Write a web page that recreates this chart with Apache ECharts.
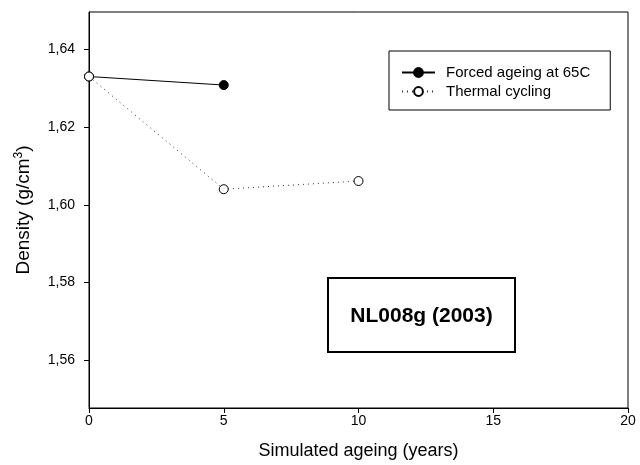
<!DOCTYPE html>
<html>
<head>
<meta charset="utf-8">
<script src="https://cdn.jsdelivr.net/npm/echarts@6/dist/echarts.min.js"></script>
<style>html,body{margin:0;padding:0;background:#fff}#c{width:640px;height:465px}</style>
</head>
<body>
<div id="c"></div>
<script>
// Data
var forcedX = [0, 5];
var forcedY = [1.6330, 1.6308];
var thermalX = [0, 5, 10];
var thermalY = [1.6330, 1.6040, 1.6061];
var yTicks = [1.56, 1.58, 1.60, 1.62, 1.64];
var xTicks = [0, 5, 10, 15, 20];
var seriesNames = ['Forced ageing at 65C', 'Thermal cycling'];
var annotation = 'NL008g (2003)';

function pairs(xs, ys) { return xs.map(function (x, i) { return [x, ys[i]]; }); }

var font = '"Liberation Sans", Arial, sans-serif';
var chart = echarts.init(document.getElementById('c'), null, { renderer: 'canvas' });
chart.setOption({
  animation: false,
  backgroundColor: '#fff',
  textStyle: { fontFamily: font, color: '#000' },
  grid: { left: 89, right: 12, top: 12, bottom: 57, show: true, borderColor: '#000', borderWidth: 1, containLabel: false },
  xAxis: {
    type: 'value', min: 0, max: 20, interval: 5,
    name: 'Simulated ageing (years)', nameLocation: 'middle', nameGap: 34,
    nameTextStyle: { fontSize: 18, fontFamily: font, color: '#000' },
    axisLine: { lineStyle: { color: '#000', width: 1 } },
    axisTick: { show: true, inside: false, length: 5, lineStyle: { color: '#000' }, customValues: xTicks },
    axisLabel: { fontSize: 14, color: '#000', fontFamily: font, margin: 6, customValues: xTicks },
    splitLine: { show: false }
  },
  yAxis: {
    type: 'value', min: 1.5477, max: 1.6496,
    name: 'Density (g/cm{sup|3})', nameLocation: 'middle', nameGap: 55,
    nameTextStyle: { fontSize: 19, fontFamily: font, color: '#000',
      rich: { sup: { fontSize: 12, fontFamily: font, color: '#000', verticalAlign: 'bottom', padding: [0, 0, 9, 0] } } },
    axisLine: { lineStyle: { color: '#000', width: 1 } },
    axisTick: { show: true, inside: false, length: 5, lineStyle: { color: '#000' }, customValues: yTicks },
    axisLabel: { fontSize: 14, color: '#000', fontFamily: font, margin: 14, customValues: yTicks,
      formatter: function (v) { return v.toFixed(2).replace('.', ','); } },
    splitLine: { show: false }
  },
  legend: {
    orient: 'vertical', left: 389, top: 51,
    data: seriesNames,
    backgroundColor: '#fff', borderColor: '#000', borderWidth: 1, borderRadius: 0,
    padding: [14, 20, 11, 12],
    itemWidth: 33, itemHeight: 11, itemGap: 4,
    textStyle: { fontSize: 15, fontFamily: font, color: '#000', padding: [0, 0, 0, 6] }
  },
  series: [
    {
      name: seriesNames[0], type: 'line', data: pairs(forcedX, forcedY),
      symbol: 'circle', symbolSize: 9,
      lineStyle: { color: '#000', width: 1, type: 'solid' },
      itemStyle: { color: '#000', borderColor: '#000', borderWidth: 1 },
      z: 2
    },
    {
      name: seriesNames[1], type: 'line', data: pairs(thermalX, thermalY),
      symbol: 'circle', symbolSize: 9,
      lineStyle: { color: '#333', width: 1, type: [1, 4] },
      itemStyle: { color: '#fff', borderColor: '#000', borderWidth: 1 },
      z: 3
    }
  ],
  graphic: [
    {
      type: 'group', left: 327, top: 277,
      children: [
        { type: 'rect', shape: { x: 0, y: 0, width: 187, height: 74 },
          style: { fill: '#fff', stroke: '#000', lineWidth: 2 } },
        { type: 'text', x: 93.5, y: 38,
          style: { text: annotation, fontSize: 21, fontWeight: 'bold', fontFamily: font,
            fill: '#000', align: 'center', verticalAlign: 'middle' } }
      ]
    }
  ]
});
</script>
</body>
</html>
